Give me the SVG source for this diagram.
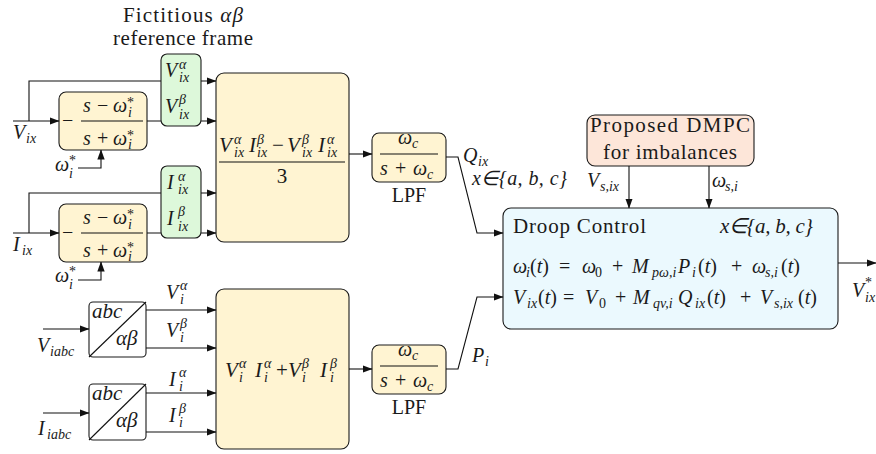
<svg xmlns="http://www.w3.org/2000/svg" width="876" height="454" viewBox="0 0 876 454" font-family="Liberation Serif, Times New Roman, serif">
<defs>
<marker id="ar" markerUnits="userSpaceOnUse" markerWidth="10" markerHeight="8" refX="9.5" refY="4" orient="auto">
<path d="M0,0.3 L10,4 L0,7.7 Z" fill="#111"/>
</marker>
<style>
.n{stroke:#1a1a1a;stroke-width:1.1}
.y{fill:#fff4d2}
.g{fill:#ddf8da}
.c{fill:#ebf9fe}
.p{fill:#fde6d9}
.w{fill:#fff}
.l{fill:none;stroke:#111;stroke-width:1.1}
.a{marker-end:url(#ar)}
text{font-family:"Liberation Serif","Times New Roman",serif;font-size:20px;fill:#1a1a1a}
.t{font-size:21px}
.i{font-style:italic}
.s{font-size:14px}
</style>
</defs>
<rect width="876" height="454" fill="#fff"/>

<g id="title">
<text class="t" x="183" y="22" text-anchor="middle" textLength="120">Fictitious <tspan class="i">αβ</tspan></text>
<text class="t" x="183" y="45" text-anchor="middle" textLength="140">reference frame</text>
</g>

<g id="allpass-v">
<rect class="n y" x="59" y="92" width="88" height="58" rx="7"/>
<text x="62" y="127">−</text>
<line class="l" x1="81" y1="121" x2="143" y2="121"/>
<text><tspan class="i" x="83" y="112">s</tspan><tspan x="97">−</tspan><tspan class="i" x="113">ω</tspan><tspan class="s" x="127" y="107">*</tspan><tspan class="s i" x="128" y="117">i</tspan></text>
<text><tspan class="i" x="83" y="145">s</tspan><tspan x="97">+</tspan><tspan class="i" x="113">ω</tspan><tspan class="s" x="127" y="140">*</tspan><tspan class="s i" x="128" y="149">i</tspan></text>
</g>

<g id="allpass-i">
<rect class="n y" x="59" y="204" width="88" height="58" rx="7"/>
<text x="62" y="239">−</text>
<line class="l" x1="81" y1="233" x2="143" y2="233"/>
<text><tspan class="i" x="83" y="224">s</tspan><tspan x="97">−</tspan><tspan class="i" x="113">ω</tspan><tspan class="s" x="127" y="219">*</tspan><tspan class="s i" x="128" y="229">i</tspan></text>
<text><tspan class="i" x="83" y="257">s</tspan><tspan x="97">+</tspan><tspan class="i" x="113">ω</tspan><tspan class="s" x="127" y="252">*</tspan><tspan class="s i" x="128" y="261">i</tspan></text>
</g>

<g id="abc-v">
<rect class="n w" x="89" y="302" width="57" height="55" rx="4"/>
<line class="l" x1="89" y1="357" x2="146" y2="302"/>
<text class="i t" x="92" y="318">abc</text>
<text class="i t" x="116" y="345">αβ</text>
</g>

<g id="abc-i">
<rect class="n w" x="89" y="384" width="57" height="56" rx="4"/>
<line class="l" x1="89" y1="440" x2="146" y2="384"/>
<text class="i t" x="92" y="400">abc</text>
<text class="i t" x="116" y="427">αβ</text>
</g>

<g id="q-calc">
<rect class="n y" x="216" y="73" width="133" height="169" rx="8"/>
<text class="t"><tspan class="i" x="219" y="152">V</tspan><tspan class="s i" x="234" y="144">α</tspan><tspan class="s i" x="234" y="157">ix</tspan><tspan class="i" x="249" y="152">I</tspan><tspan class="s i" x="257" y="144">β</tspan><tspan class="s i" x="257" y="157">ix</tspan><tspan x="272" y="152">−</tspan><tspan class="i" x="287" y="152">V</tspan><tspan class="s i" x="302" y="144">β</tspan><tspan class="s i" x="302" y="157">ix</tspan><tspan class="i" x="318" y="152">I</tspan><tspan class="s i" x="327" y="144">α</tspan><tspan class="s i" x="327" y="157">ix</tspan></text>
<line class="l" x1="219" y1="162" x2="345" y2="162"/>
<text class="t" x="282" y="183" text-anchor="middle">3</text>
</g>

<g id="p-calc">
<rect class="n y" x="216" y="289" width="133" height="160" rx="8"/>
<text class="t"><tspan class="i" x="225" y="377">V</tspan><tspan class="s i" x="239" y="368">α</tspan><tspan class="s i" x="239" y="382">i</tspan><tspan class="i" x="255" y="377">I</tspan><tspan class="s i" x="264" y="368">α</tspan><tspan class="s i" x="264" y="382">i</tspan><tspan x="276" y="377">+</tspan><tspan class="i" x="288" y="377">V</tspan><tspan class="s i" x="302" y="368">β</tspan><tspan class="s i" x="302" y="382">i</tspan><tspan class="i" x="320" y="377">I</tspan><tspan class="s i" x="330" y="368">β</tspan><tspan class="s i" x="330" y="382">i</tspan></text>
</g>

<g id="lpf-q">
<rect class="n y" x="372" y="133" width="74" height="49" rx="7"/>
<text><tspan class="i" x="398" y="144">ω</tspan><tspan class="s i" x="412" y="148">c</tspan></text>
<line class="l" x1="380" y1="154" x2="438" y2="154"/>
<text><tspan class="i" x="380" y="175">s</tspan><tspan x="395">+</tspan><tspan class="i" x="413">ω</tspan><tspan class="s i" x="427" y="179">c</tspan></text>
<text x="409" y="202" text-anchor="middle" font-size="22">LPF</text>
</g>

<g id="lpf-p">
<rect class="n y" x="372" y="345" width="74" height="49" rx="7"/>
<text><tspan class="i" x="398" y="356">ω</tspan><tspan class="s i" x="412" y="360">c</tspan></text>
<line class="l" x1="380" y1="366" x2="438" y2="366"/>
<text><tspan class="i" x="380" y="387">s</tspan><tspan x="395">+</tspan><tspan class="i" x="413">ω</tspan><tspan class="s i" x="427" y="391">c</tspan></text>
<text x="409" y="414" text-anchor="middle" font-size="22">LPF</text>
</g>

<g id="dmpc">
<rect class="n p" x="587" y="115" width="167" height="51" rx="8"/>
<text class="t" x="670" y="132" text-anchor="middle" textLength="160">Proposed DMPC</text>
<text class="t" x="670" y="159" text-anchor="middle" textLength="134">for imbalances</text>
</g>

<g id="droop">
<rect class="n c" x="503" y="208" width="335" height="121" rx="8"/>
<text class="t" x="513" y="233" textLength="133">Droop Control</text>
<text class="i t" x="720" y="233" textLength="93">x∈{a, b, c}</text>
<text><tspan class="i" x="513" y="273">ω</tspan><tspan class="s i" x="526" y="277">i</tspan><tspan x="530" y="273">(</tspan><tspan class="i">t</tspan><tspan>)</tspan><tspan x="559">=</tspan><tspan class="i" x="582">ω</tspan><tspan class="s" x="595" y="277">0</tspan><tspan x="612" y="273">+</tspan><tspan class="i" x="632">M</tspan><tspan class="s i" x="652" y="277">pω,i</tspan><tspan class="i" x="678" y="273">P</tspan><tspan class="s i" x="692" y="277">i</tspan><tspan x="698" y="273">(</tspan><tspan class="i">t</tspan><tspan>)</tspan><tspan x="731">+</tspan><tspan class="i" x="752">ω</tspan><tspan class="s i" x="765" y="277">s,i</tspan><tspan x="781" y="273">(</tspan><tspan class="i">t</tspan><tspan>)</tspan></text>
<text><tspan class="i" x="513" y="304">V</tspan><tspan class="s i" x="527" y="308">ix</tspan><tspan x="538" y="304">(</tspan><tspan class="i">t</tspan><tspan>)</tspan><tspan x="563">=</tspan><tspan class="i" x="585">V</tspan><tspan class="s" x="599" y="308">0</tspan><tspan x="615" y="304">+</tspan><tspan class="i" x="633">M</tspan><tspan class="s i" x="653" y="308">qv,i</tspan><tspan class="i" x="678" y="304">Q</tspan><tspan class="s i" x="695" y="308">ix</tspan><tspan x="707" y="304">(</tspan><tspan class="i">t</tspan><tspan>)</tspan><tspan x="740">+</tspan><tspan class="i" x="760">V</tspan><tspan class="s i" x="774" y="308">s,ix</tspan><tspan x="798" y="304">(</tspan><tspan class="i">t</tspan><tspan>)</tspan></text>
</g>

<g id="connectors">
<path class="l a" d="M13,121 H59"/>
<path class="l a" d="M29,121 V81 H216"/>
<path class="l a" d="M147,121 H216"/>
<path class="l a" d="M78,168 H101 V150"/>
<path class="l a" d="M13,233 H59"/>
<path class="l a" d="M29,233 V193 H216"/>
<path class="l a" d="M147,233 H216"/>
<path class="l a" d="M78,280 H101 V262"/>
<path class="l a" d="M43,329 H89"/>
<path class="l a" d="M43,413 H89"/>
<path class="l a" d="M146,310 H216"/>
<path class="l a" d="M146,348 H216"/>
<path class="l a" d="M146,393 H216"/>
<path class="l a" d="M146,432 H216"/>
<path class="l a" d="M349,154 H372"/>
<path class="l a" d="M349,369 H372"/>
<path class="l a" d="M446,157 H458 L477,233 H503"/>
<path class="l a" d="M446,369 H458 L477,297 H503"/>
<path class="l a" d="M629,166 V208"/>
<path class="l a" d="M709,166 V208"/>
<path class="l a" d="M838,263 H876"/>
</g>

<g id="green-v">
<rect class="n g" x="161" y="54" width="40" height="72" rx="6"/>
<text><tspan class="i" x="165" y="77">V</tspan><tspan class="s i" x="179" y="69">α</tspan><tspan class="s i" x="179" y="82">ix</tspan></text>
<text><tspan class="i" x="165" y="113">V</tspan><tspan class="s i" x="179" y="104">β</tspan><tspan class="s i" x="179" y="119">ix</tspan></text>
</g>

<g id="green-i">
<rect class="n g" x="161" y="166" width="40" height="72" rx="6"/>
<text><tspan class="i" x="167" y="189">I</tspan><tspan class="s i" x="178" y="181">α</tspan><tspan class="s i" x="178" y="194">ix</tspan></text>
<text><tspan class="i" x="167" y="225">I</tspan><tspan class="s i" x="178" y="216">β</tspan><tspan class="s i" x="178" y="231">ix</tspan></text>
</g>

<g id="labels">
<text><tspan class="i" x="13" y="139">V</tspan><tspan class="s i" x="26" y="143">ix</tspan></text>
<text><tspan class="i" x="13" y="251">I</tspan><tspan class="s i" x="22" y="255">ix</tspan></text>
<text><tspan class="i" x="55" y="171">ω</tspan><tspan class="s" x="69" y="165">*</tspan><tspan class="s i" x="69" y="178">i</tspan></text>
<text><tspan class="i" x="55" y="282">ω</tspan><tspan class="s" x="69" y="276">*</tspan><tspan class="s i" x="69" y="289">i</tspan></text>
<text><tspan class="i" x="37" y="352">V</tspan><tspan class="s i" x="50" y="356">iabc</tspan></text>
<text><tspan class="i" x="38" y="435">I</tspan><tspan class="s i" x="47" y="439">iabc</tspan></text>
<text><tspan class="i" x="166" y="299">V</tspan><tspan class="s i" x="180" y="290">α</tspan><tspan class="s i" x="180" y="304">i</tspan></text>
<text><tspan class="i" x="166" y="337">V</tspan><tspan class="s i" x="180" y="328">β</tspan><tspan class="s i" x="180" y="342">i</tspan></text>
<text><tspan class="i" x="169" y="386">I</tspan><tspan class="s i" x="179" y="377">α</tspan><tspan class="s i" x="179" y="391">i</tspan></text>
<text><tspan class="i" x="169" y="422">I</tspan><tspan class="s i" x="179" y="413">β</tspan><tspan class="s i" x="179" y="427">i</tspan></text>
<text><tspan class="i" x="463" y="162">Q</tspan><tspan class="s i" x="478" y="166">ix</tspan></text>
<text class="i" x="472" y="185" textLength="95">x∈{a, b, c}</text>
<text><tspan class="i" x="472" y="362">P</tspan><tspan class="s i" x="485" y="366">i</tspan></text>
<text><tspan class="i" x="587" y="187">V</tspan><tspan class="s i" x="600" y="191">s,ix</tspan></text>
<text><tspan class="i" x="712" y="187">ω</tspan><tspan class="s i" x="725" y="191">s,i</tspan></text>
<text><tspan class="i" x="852" y="297">V</tspan><tspan class="s" x="865" y="287">*</tspan><tspan class="s i" x="865" y="302">ix</tspan></text>
</g>
</svg>
